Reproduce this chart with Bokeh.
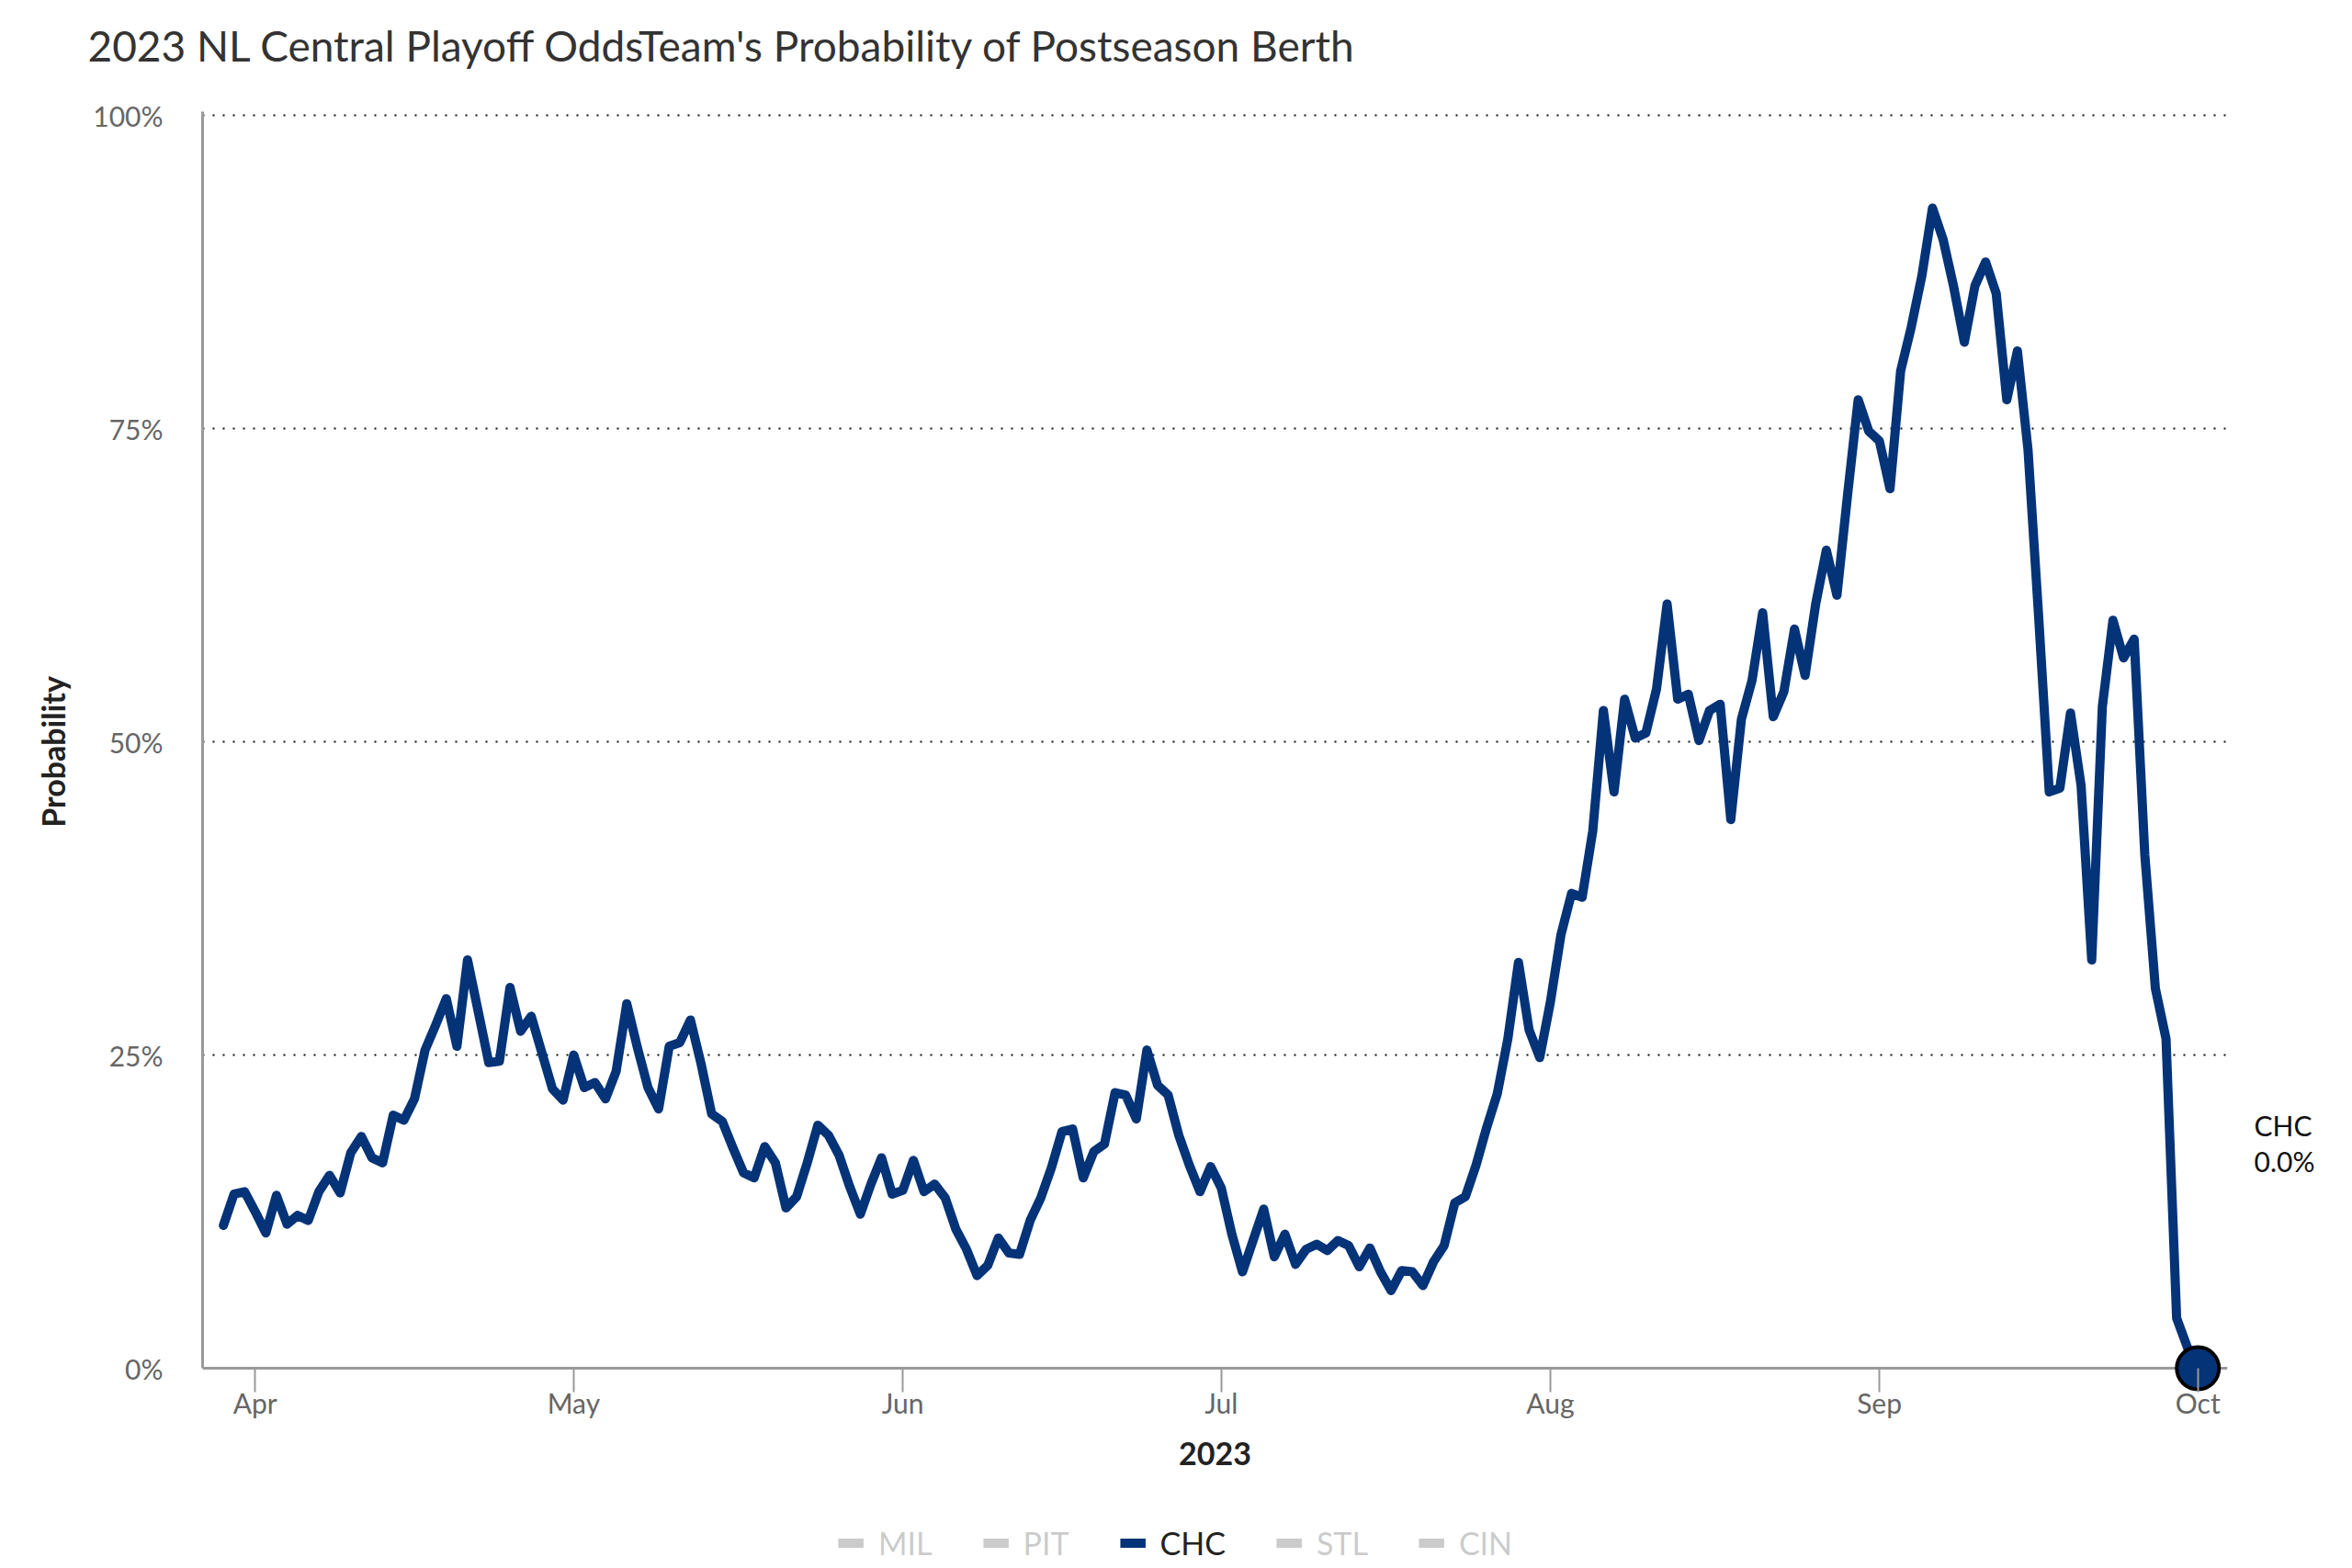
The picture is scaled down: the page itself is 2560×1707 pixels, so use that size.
import datetime as dt
from bokeh.plotting import figure
from bokeh.layouts import column, row
from bokeh.models import (Range1d, MonthsTicker, DatetimeTickFormatter, FixedTicker, Grid,
                          PrintfTickFormatter, Legend, LegendItem, ColumnDataSource, Title, Label)
from bokeh.embed import file_html
from bokeh.resources import INLINE

# ---------------- data ----------------
title_text = "2023 NL Central Playoff OddsTeam's Probability of Postseason Berth"
start_date = dt.datetime(2023, 3, 29)
teams = ["MIL", "PIT", "CHC", "STL", "CIN"]
highlight_team = "CHC"
y_ticks = [0, 25, 50, 75, 100]

# CHC probability of postseason berth (%), one value per day from 2023-03-29 to 2023-10-01
chc_prob = [
    11.4, 13.9, 14.1, 12.5, 10.8, 13.8, 11.5, 12.2, 11.8, 14.1,
    15.4, 14.0, 17.2, 18.5, 16.8, 16.4, 20.2, 19.8, 21.5, 25.4,
    27.4, 29.5, 25.7, 32.6, 28.5, 24.4, 24.5, 30.4, 26.9, 28.1,
    25.2, 22.3, 21.4, 25.0, 22.4, 22.8, 21.5, 23.7, 29.1, 25.6,
    22.4, 20.7, 25.7, 26.0, 27.8, 24.3, 20.3, 19.7, 17.6, 15.6,
    15.2, 17.7, 16.4, 12.8, 13.7, 16.4, 19.4, 18.6, 17.0, 14.5,
    12.3, 14.7, 16.8, 13.9, 14.2, 16.6, 14.1, 14.7, 13.6, 11.1,
    9.5, 7.4, 8.2, 10.4, 9.2, 9.1, 11.8, 13.6, 16.0, 18.9,
    19.1, 15.2, 17.3, 17.9, 22.0, 21.8, 19.9, 25.4, 22.6, 21.8,
    18.6, 16.2, 14.1, 16.1, 14.4, 10.7, 7.7, 10.2, 12.7, 8.9,
    10.7, 8.3, 9.5, 9.9, 9.4, 10.2, 9.8, 8.1, 9.6, 7.7,
    6.2, 7.8, 7.7, 6.6, 8.5, 9.8, 13.2, 13.7, 16.2, 19.2,
    21.9, 26.3, 32.4, 27.0, 24.8, 29.2, 34.6, 37.9, 37.6, 42.9,
    52.5, 46.0, 53.4, 50.3, 50.7, 54.2, 61.0, 53.4, 53.8, 50.1,
    52.5, 53.0, 43.8, 51.8, 54.9, 60.3, 52.0, 54.0, 59.0, 55.3,
    61.0, 65.3, 61.7, 69.7, 77.3, 74.8, 74.0, 70.2, 79.6, 83.1,
    87.2, 92.6, 90.1, 86.3, 81.9, 86.4, 88.3, 85.8, 77.3, 81.2,
    73.3, 60.0, 46.0, 46.3, 52.3, 46.5, 32.6, 52.8, 59.7, 56.7,
    58.2, 41.0, 30.3, 26.3, 4.0, 1.7, 0.0,
]
dates = [start_date + dt.timedelta(days=i) for i in range(len(chc_prob))]

# ---------------- style ----------------
NAVY = "#043378"
FONT = "Lato"
MAIN_W, MAIN_H = 2440, 1640
SIDE_W = 104
LEG_H = 59
B_TOP, B_BOTTOM = 121, 125

src = ColumnDataSource(data=dict(date=dates, prob=chc_prob))
# a little room below 0 so the end marker is not cut by the plot frame
y_range = Range1d(-1.9, 100.3)

p = figure(
    width=MAIN_W, height=MAIN_H,
    x_axis_type="datetime",
    x_range=Range1d(dt.datetime(2023, 3, 27, 1), dt.datetime(2023, 10, 3, 19)),
    y_range=y_range,
    output_backend="svg", toolbar_location=None,
    min_border_left=220, min_border_right=16,
    min_border_top=B_TOP, min_border_bottom=B_BOTTOM,
    background_fill_color="white", border_fill_color="white",
    outline_line_color=None,
)

# spacer between frame and title (title itself is outermost in the "above" panel)
p.add_layout(Title(text=" ", text_font=FONT, text_font_size="30px", standoff=0), "above")

p.title.text = title_text
p.title.text_font = FONT
p.title.text_font_style = "normal"
p.title.text_font_size = "46px"
p.title.text_color = "#333333"
p.title.align = "left"
p.title.vertical_align = "bottom"
p.title.offset = -125
p.title.standoff = 14

# grid: dotted lines at 25..100, solid grey baseline at 0 (acts as the x axis line)
p.xgrid.visible = False
p.ygrid.ticker = FixedTicker(ticks=y_ticks[1:])
p.ygrid.grid_line_color = "#111111"
p.ygrid.grid_line_dash = "2 9"
p.ygrid.grid_line_width = 2
p.add_layout(Grid(dimension=1, ticker=FixedTicker(ticks=y_ticks[:1]),
                  grid_line_color="#999999", grid_line_width=3))

# y axis
p.yaxis.ticker = FixedTicker(ticks=y_ticks)
p.yaxis.formatter = PrintfTickFormatter(format="%d%%")
p.yaxis.bounds = (0, 100.3)
p.yaxis.major_tick_out = 0
p.yaxis.major_tick_in = 0
p.yaxis.minor_tick_out = 0
p.yaxis.minor_tick_in = 0
p.yaxis.major_label_standoff = 43
p.yaxis.axis_line_color = "#999999"
p.yaxis.axis_line_width = 3
p.yaxis.major_label_text_font = FONT
p.yaxis.major_label_text_font_size = "30px"
p.yaxis.major_label_text_color = "#666666"
p.yaxis.axis_label = "Probability"
p.yaxis.axis_label_text_font = FONT
p.yaxis.axis_label_text_font_style = "bold"
p.yaxis.axis_label_text_font_size = "34px"
p.yaxis.axis_label_text_color = "#222222"
p.yaxis.axis_label_standoff = 20

# x axis (ticks reach up to the 0% baseline)
p.xaxis.ticker = MonthsTicker(months=list(range(12)))
p.xaxis.formatter = DatetimeTickFormatter(months="%b", days="%b")
p.xaxis.major_tick_out = 0
p.xaxis.major_tick_in = 26
p.xaxis.minor_tick_out = 0
p.xaxis.minor_tick_in = 0
p.xaxis.major_tick_line_color = "#999999"
p.xaxis.major_tick_line_width = 2
p.xaxis.axis_line_color = None
p.xaxis.major_label_standoff = -7
p.xaxis.major_label_text_font = FONT
p.xaxis.major_label_text_font_size = "30px"
p.xaxis.major_label_text_color = "#666666"
p.xaxis.axis_label = "2023"
p.xaxis.axis_label_text_font = FONT
p.xaxis.axis_label_text_font_style = "bold"
p.xaxis.axis_label_text_font_size = "34px"
p.xaxis.axis_label_text_color = "#222222"
p.xaxis.axis_label_standoff = 22

# main line
p.line(x="date", y="prob", source=src, line_width=10, line_color=NAVY,
       line_join="round", line_cap="round")

# end marker
p.scatter(x=[dates[-1]], y=[chc_prob[-1]], size=46, fill_color=NAVY,
          line_color="black", line_width=4)


def blank_figure(w, h, left, right, top, bottom, yr=None):
    f = figure(width=w, height=h, output_backend="svg", toolbar_location=None,
               x_axis_location=None, y_axis_location=None,
               x_range=Range1d(0, 1), y_range=yr if yr is not None else Range1d(0, 1),
               min_border_left=left, min_border_right=right,
               min_border_top=top, min_border_bottom=bottom,
               background_fill_color="white", border_fill_color="white",
               outline_line_color=None)
    f.grid.visible = False
    return f


# ---- end label (team name + last value) to the right of the plot ----
side = blank_figure(SIDE_W, MAIN_H, 13, 0, B_TOP, B_BOTTOM, yr=y_range)
side.add_layout(Label(x=0, y=chc_prob[-1], y_offset=265, text=highlight_team,
                      text_align="left", text_baseline="middle", text_font=FONT,
                      text_font_size="30px", text_color="#111111"))
side.add_layout(Label(x=0, y=chc_prob[-1], y_offset=226, text=f"{chc_prob[-1]:.1f}%",
                      text_align="left", text_baseline="middle", text_font=FONT,
                      text_font_size="30px", text_color="#111111"))

# ---- series legend below (non-highlighted teams shown as hidden series) ----
leg = blank_figure(MAIN_W + SIDE_W, LEG_H, 14, 0, 19, 0)
items = []
for team in teams:
    r = leg.line(x=[0], y=[float("nan")], line_width=10, line_cap="butt",
                 line_color=NAVY if team == highlight_team else "#222222")
    r.visible = (team == highlight_team)
    items.append(LegendItem(label=team, renderers=[r]))
leg.add_layout(Legend(items=items, orientation="horizontal", location="center",
                      click_policy="hide", inactive_fill_color="white", inactive_fill_alpha=0.77,
                      label_text_font=FONT, label_text_font_size="34px",
                      label_text_color="#222222",
                      glyph_width=28, glyph_height=20, label_standoff=16, spacing=55,
                      padding=0, margin=0, border_line_color=None, background_fill_alpha=0))

layout = column(row(p, side), leg)
open("out.html", "w").write(file_html(layout, INLINE))
